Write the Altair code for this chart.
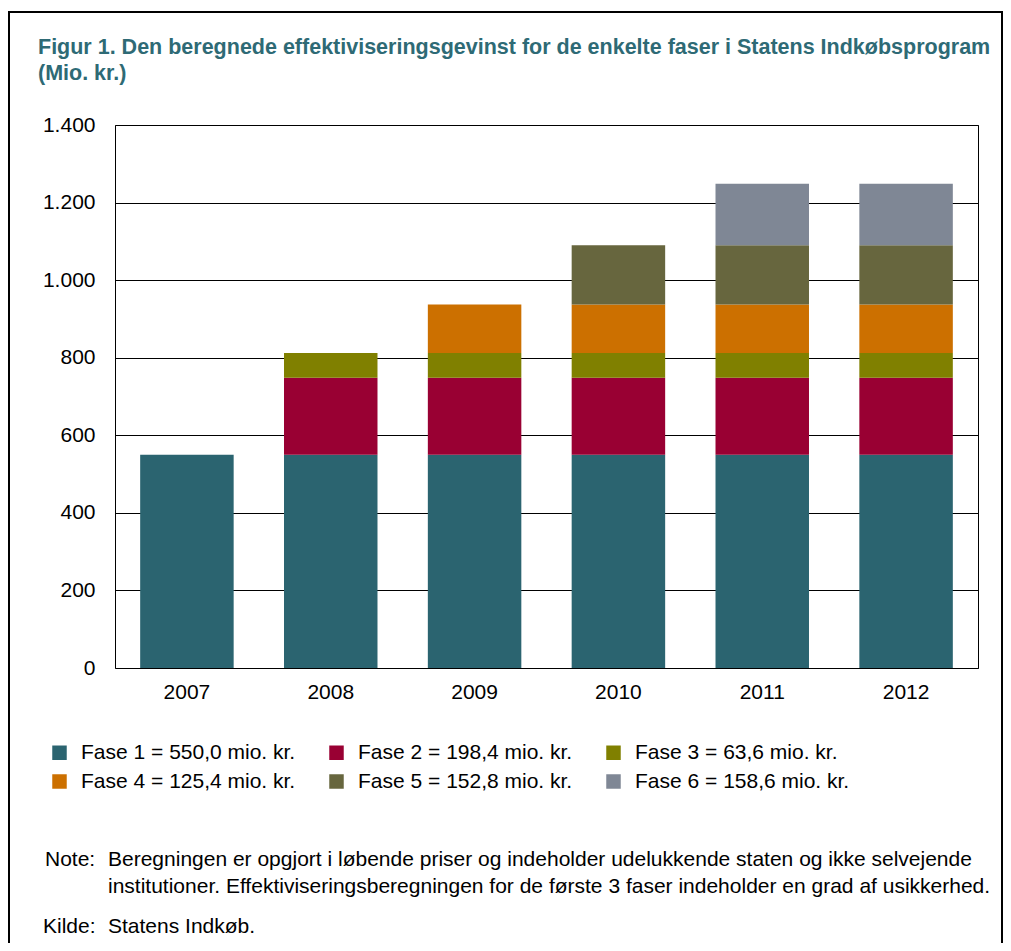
import altair as alt
import pandas as pd

years = ["2007", "2008", "2009", "2010", "2011", "2012"]
phase_names = ["Fase 1", "Fase 2", "Fase 3", "Fase 4", "Fase 5", "Fase 6"]
phase_values = [550.0, 198.4, 63.6, 125.4, 152.8, 158.6]
phases_per_year = [1, 3, 4, 5, 6, 6]
phase_colors = ["#2B6470", "#990033", "#808000", "#CC7000", "#67663E", "#7F8795"]
legend_labels = [
    "Fase 1 = 550,0 mio. kr.", "Fase 2 = 198,4 mio. kr.", "Fase 3 = 63,6 mio. kr.",
    "Fase 4 = 125,4 mio. kr.", "Fase 5 = 152,8 mio. kr.", "Fase 6 = 158,6 mio. kr.",
]
y_ticks = [0, 200, 400, 600, 800, 1000, 1200, 1400]

title_lines = [
    "Figur 1. Den beregnede effektiviseringsgevinst for de enkelte faser i Statens Indkøbsprogram",
    "(Mio. kr.)",
]
note_label = "Note:"
note_lines = [
    "Beregningen er opgjort i løbende priser og indeholder udelukkende staten og ikke selvejende",
    "institutioner. Effektiviseringsberegningen for de første 3 faser indeholder en grad af usikkerhed.",
]
source_label = "Kilde:"
source_text = "Statens Indkøb."

rows = []
for y, n in zip(years, phases_per_year):
    for i in range(n):
        rows.append({"year": y, "phase": legend_labels[i], "idx": i, "value": phase_values[i]})
df = pd.DataFrame(rows)

FONT = "Liberation Sans"
W, H = 863, 543
FS = 21

bars = alt.Chart(df).mark_bar().encode(
    x=alt.X("year:N", sort=years, title=None,
            scale=alt.Scale(paddingInner=0.35, paddingOuter=0.175),
            axis=alt.Axis(labelAngle=0, ticks=False, domain=False, labelPadding=13,
                          labelFontSize=FS, labelColor="black")),
    y=alt.Y("sum(value):Q", title=None, stack="zero",
            scale=alt.Scale(domain=[0, 1400], nice=False),
            axis=alt.Axis(values=y_ticks, ticks=False, domain=False, labelPadding=20,
                          labelFontSize=FS, labelColor="black", gridColor="black",
                          gridOpacity=1, gridWidth=1,
                          labelExpr="replace(format(datum.value, ','), ',', '.')")),
    color=alt.Color("phase:N", sort=legend_labels,
                    scale=alt.Scale(domain=legend_labels, range=phase_colors),
                    legend=alt.Legend(title=None, orient="none", legendX=-66, legendY=617,
                                      columns=3, direction="horizontal",
                                      symbolType="square", symbolSize=210,
                                      symbolStrokeWidth=0, symbolOpacity=1,
                                      labelFontSize=FS, labelOffset=11, labelColor="black",
                                      rowPadding=7, columnPadding=30, gridAlign="all",
                                      labelLimit=400)),
    order=alt.Order("idx:Q", sort="ascending"),
)

one = pd.DataFrame({"a": [0]})

def txt(s, x, y, size=21, weight="normal", color="black"):
    return alt.Chart(one).mark_text(text=s, align="left", baseline="alphabetic",
                                    font=FONT, fontSize=size, fontWeight=weight,
                                    color=color).encode(
        x=alt.value(x), y=alt.value(y))

texts = [
    txt(title_lines[0], -77, -71, size=21.5, weight="bold", color="#2E6A75"),
    txt(title_lines[1], -77, -45, size=21.5, weight="bold", color="#2E6A75"),
    txt(note_label, -70, 741),
    txt(note_lines[0], -7, 741),
    txt(note_lines[1], -7, 768),
    txt(source_label, -72, 808),
    txt(source_text, -7, 808),
]

frame = [
    alt.Chart(one).mark_rule(color="black", strokeWidth=2).encode(
        x=alt.value(-106), y=alt.value(-113), y2=alt.value(830)),
    alt.Chart(one).mark_rule(color="black", strokeWidth=2).encode(
        x=alt.value(-107), x2=alt.value(888), y=alt.value(-113)),
    alt.Chart(one).mark_rule(color="black", strokeWidth=2).encode(
        x=alt.value(887), y=alt.value(-113), y2=alt.value(830)),
]

chart = alt.layer(bars, *texts, *frame).properties(
    width=W, height=H, autosize="none",
    padding={"left": 107, "top": 117, "right": 25, "bottom": 275},
).configure(font=FONT).configure_view(stroke="black", strokeWidth=1).configure_axis(
    labelFont=FONT).configure_legend(labelFont=FONT)

chart.save("out.html", embed_options={"renderer": "svg", "actions": False})
